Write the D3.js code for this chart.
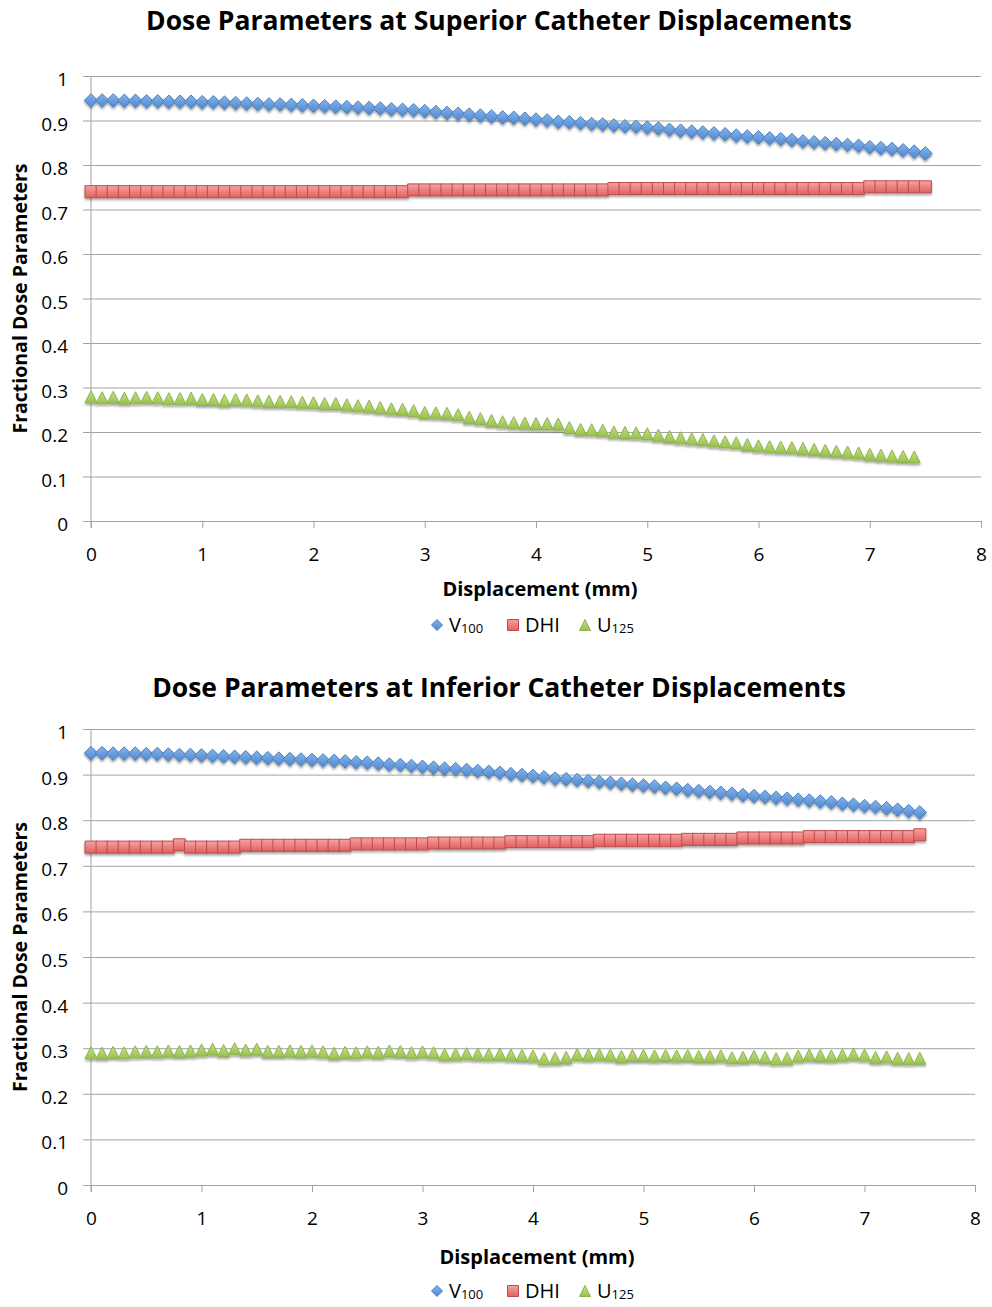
<!DOCTYPE html>
<html>
<head>
<meta charset="utf-8">
<script src="https://cdn.jsdelivr.net/npm/d3@7"></script>
<style>
  body { margin: 0; background: #fff; }
  svg { display: block; font-family: "Open Sans", sans-serif; }
</style>
</head>
<body>
<div id="chart"></div>
<script>
// displacement in mm, one value every 0.1 mm
const displacement = [0.0,0.1,0.2,0.3,0.4,0.5,0.6,0.7,0.8,0.9,1.0,1.1,1.2,1.3,1.4,1.5,1.6,1.7,1.8,1.9,
  2.0,2.1,2.2,2.3,2.4,2.5,2.6,2.7,2.8,2.9,3.0,3.1,3.2,3.3,3.4,3.5,3.6,3.7,3.8,3.9,
  4.0,4.1,4.2,4.3,4.4,4.5,4.6,4.7,4.8,4.9,5.0,5.1,5.2,5.3,5.4,5.5,5.6,5.7,5.8,5.9,
  6.0,6.1,6.2,6.3,6.4,6.5,6.6,6.7,6.8,6.9,7.0,7.1,7.2,7.3,7.4,7.5];

// superior displacements
const supV100 = [.945,.945,.945,.944,.944,.943,.943,.942,.942,.942,.941,.941,.940,.939,.938,.937,.936,.936,.935,.934,
  .933,.932,.931,.930,.929,.928,.927,.925,.924,.923,.921,.919,.917,.915,.913,.911,.909,.907,.906,.904,
  .902,.900,.897,.896,.894,.892,.891,.889,.887,.886,.884,.882,.879,.877,.875,.873,.871,.869,.866,.864,
  .862,.860,.858,.856,.853,.851,.849,.847,.845,.843,.840,.838,.836,.833,.830,.826];
const supDHI = [.740,.740,.740,.740,.740,.740,.740,.740,.740,.740,.740,.740,.740,.740,.740,.740,.740,.740,.740,.740,
  .740,.740,.740,.740,.740,.740,.740,.740,.740,.744,.744,.744,.744,.744,.744,.744,.744,.744,.744,.744,
  .744,.744,.744,.744,.744,.744,.744,.747,.747,.747,.747,.747,.747,.747,.747,.747,.747,.747,.747,.747,
  .747,.747,.747,.747,.747,.747,.747,.747,.747,.747,.751,.751,.751,.751,.751,.751];
const supU125 = [.279,.277,.278,.276,.277,.278,.277,.275,.275,.276,.273,.273,.271,.273,.272,.270,.269,.269,.268,.267,
  .266,.264,.264,.261,.259,.258,.255,.252,.251,.248,.244,.243,.242,.239,.233,.230,.226,.223,.221,.220,
  .219,.219,.218,.210,.206,.205,.204,.200,.199,.198,.196,.193,.190,.187,.185,.183,.180,.178,.176,.172,
  .169,.167,.166,.165,.163,.161,.159,.157,.155,.153,.150,.148,.146,.145,.144];

// inferior displacements
const infV100 = [.947,.947,.946,.946,.946,.945,.945,.944,.943,.943,.942,.941,.940,.939,.938,.937,.936,.935,.934,.933,
  .932,.931,.930,.929,.927,.926,.924,.922,.921,.919,.917,.915,.913,.912,.910,.908,.906,.904,.901,.899,
  .897,.894,.891,.890,.888,.886,.884,.882,.880,.878,.876,.874,.871,.869,.866,.864,.862,.860,.858,.855,
  .853,.851,.849,.847,.845,.843,.841,.839,.836,.834,.831,.829,.826,.823,.820,.817];
const infDHI = [.741,.741,.741,.741,.741,.741,.741,.741,.746,.741,.741,.741,.741,.741,.745,.745,.745,.745,.745,.745,
  .745,.745,.745,.745,.748,.748,.748,.748,.748,.748,.748,.750,.750,.750,.750,.750,.750,.750,.753,.753,
  .753,.753,.753,.753,.753,.753,.756,.756,.756,.756,.756,.756,.756,.756,.758,.758,.758,.758,.758,.761,
  .761,.761,.761,.761,.761,.764,.764,.764,.764,.764,.764,.764,.764,.764,.764,.768];
const infU125 = [.290,.289,.291,.290,.292,.293,.292,.294,.293,.294,.296,.298,.295,.299,.296,.298,.293,.293,.294,.293,
  .294,.292,.289,.291,.290,.292,.291,.294,.293,.290,.292,.290,.286,.287,.288,.287,.286,.287,.285,.284,
  .283,.277,.278,.280,.286,.285,.286,.285,.282,.284,.284,.283,.284,.283,.284,.282,.282,.283,.279,.280,
  .282,.280,.277,.278,.283,.285,.284,.283,.285,.287,.285,.280,.281,.278,.277,.278];

const xTicks = [0,1,2,3,4,5,6,7,8];
const yTicks = [0,0.1,0.2,0.3,0.4,0.5,0.6,0.7,0.8,0.9,1];

const svg = d3.select("#chart").append("svg")
  .attr("width", 992).attr("height", 1307);

const defs = svg.append("defs");
const grad = (id, c1, c2) => {
  const g = defs.append("linearGradient").attr("id", id)
    .attr("x1", 0).attr("y1", 0).attr("x2", 0).attr("y2", 1);
  g.append("stop").attr("offset", "0%").attr("stop-color", c1);
  g.append("stop").attr("offset", "100%").attr("stop-color", c2);
};
grad("gBlue", "#84b4ea", "#4f87cf");
grad("gRed", "#f6a3a3", "#e0605e");
grad("gGreen", "#c4e285", "#98c24c");
defs.append("filter").attr("id", "shadow")
  .attr("x", "-50%").attr("y", "-50%").attr("width", "200%").attr("height", "200%")
  .append("feDropShadow")
  .attr("dx", 0).attr("dy", 2).attr("stdDeviation", 1.3)
  .attr("flood-color", "#000").attr("flood-opacity", 0.35);

// marker shapes, r = half size
const shapes = {
  diamond: r => `M0,${-r}L${r},0L0,${r}L${-r},0Z`,
  square: r => `M${-r},${-r}H${r}V${r}H${-r}Z`,
  triangle: r => `M0,${-r}L${r},${r}H${-r}Z`
};

const series = [
  {key: "V", sub: "100", shape: "diamond", r: 6.8, fill: "url(#gBlue)", stroke: "#4a7ebb"},
  {key: "DHI", sub: "", shape: "square", r: 6, fill: "url(#gRed)", stroke: "#be4b48"},
  {key: "U", sub: "125", shape: "triangle", r: 6, fill: "url(#gGreen)", stroke: "#8fb24f"}
];

const drawChart = (cfg) => {
  const xScale = d3.scaleLinear().domain([0, 8]).range([cfg.left, cfg.right]);
  const yScale = d3.scaleLinear().domain([0, 1]).range([cfg.bottom, cfg.top]);
  const g = svg.append("g");

  // gridlines + y ticks
  g.append("g")
    .attr("transform", `translate(${cfg.left},0)`)
    .call(d3.axisLeft(yScale).tickValues(yTicks).tickSize(-(cfg.right - cfg.left)).tickSizeOuter(0)
      .tickFormat(d => d === 0 || d === 1 ? d : d3.format(".1f")(d)))
    .call(a => a.select(".domain").remove())
    .call(a => a.selectAll(".tick line").attr("stroke", "#a3a3a3").attr("x1", -8))
    .call(a => a.selectAll(".tick text").attr("x", -23).attr("dy", "0.5em")
      .attr("font-size", 19).attr("fill", "#000").attr("font-family", "Open Sans, sans-serif"));

  // y axis line
  g.append("line")
    .attr("x1", cfg.left).attr("x2", cfg.left)
    .attr("y1", cfg.top).attr("y2", cfg.bottom + 7)
    .attr("stroke", "#a3a3a3");

  // x ticks
  g.append("g")
    .attr("transform", `translate(0,${cfg.bottom})`)
    .call(d3.axisBottom(xScale).tickValues(xTicks).tickSize(7).tickSizeOuter(0))
    .call(a => a.select(".domain").remove())
    .call(a => a.selectAll(".tick line").attr("stroke", "#a3a3a3"))
    .call(a => a.selectAll(".tick text").attr("y", 40).attr("dy", 0)
      .attr("font-size", 19).attr("fill", "#000").attr("font-family", "Open Sans, sans-serif"));

  // title
  g.append("text").text(cfg.title)
    .attr("x", 499).attr("y", cfg.titleY)
    .attr("text-anchor", "middle").attr("font-weight", "bold").attr("font-size", 26.5);

  g.append("text").text("Displacement (mm)")
    .attr("x", cfg.axisTitleX).attr("y", cfg.bottom + cfg.axisTitleDy)
    .attr("text-anchor", "middle").attr("font-weight", "bold").attr("font-size", 20);

  g.append("text").text("Fractional Dose Parameters")
    .attr("transform", `translate(27,${(cfg.top + cfg.bottom) / 2}) rotate(-90)`)
    .attr("text-anchor", "middle").attr("font-weight", "bold").attr("font-size", 19.5);

  // points
  series.forEach((s, i) => {
    const vals = cfg.values[i];
    g.append("g").attr("filter", "url(#shadow)")
      .selectAll("path")
      .data(vals)
      .join("path")
        .attr("d", shapes[s.shape](s.r))
        .attr("transform", (d, j) => `translate(${xScale(displacement[j])},${yScale(d)})`)
        .attr("fill", s.fill)
        .attr("stroke", s.stroke)
        .attr("stroke-width", 1);
  });

  // legend
  const legend = g.append("g").attr("transform", `translate(0,${cfg.legendY})`);
  const legendX = [437, 513, 585];
  series.forEach((s, i) => {
    legend.append("path")
      .attr("d", shapes[s.shape](5.5))
      .attr("transform", `translate(${legendX[i]},0)`)
      .attr("fill", s.fill).attr("stroke", s.stroke);
    const t = legend.append("text")
      .attr("x", legendX[i] + 12).attr("y", 7)
      .attr("font-size", 20);
    t.append("tspan").text(s.key);
    if (s.sub) t.append("tspan").text(s.sub).attr("font-size", 13).attr("dy", 1);
  });
};

drawChart({
  title: "Dose Parameters at Superior Catheter Displacements",
  titleY: 30, left: 91, right: 981, top: 76, bottom: 521,
  axisTitleX: 540, axisTitleDy: 75, legendY: 625,
  values: [supV100, supDHI, supU125]
});
drawChart({
  title: "Dose Parameters at Inferior Catheter Displacements",
  titleY: 697, left: 91, right: 975, top: 729, bottom: 1185,
  axisTitleX: 537, axisTitleDy: 79, legendY: 1291,
  values: [infV100, infDHI, infU125]
});
</script>
</body>
</html>
